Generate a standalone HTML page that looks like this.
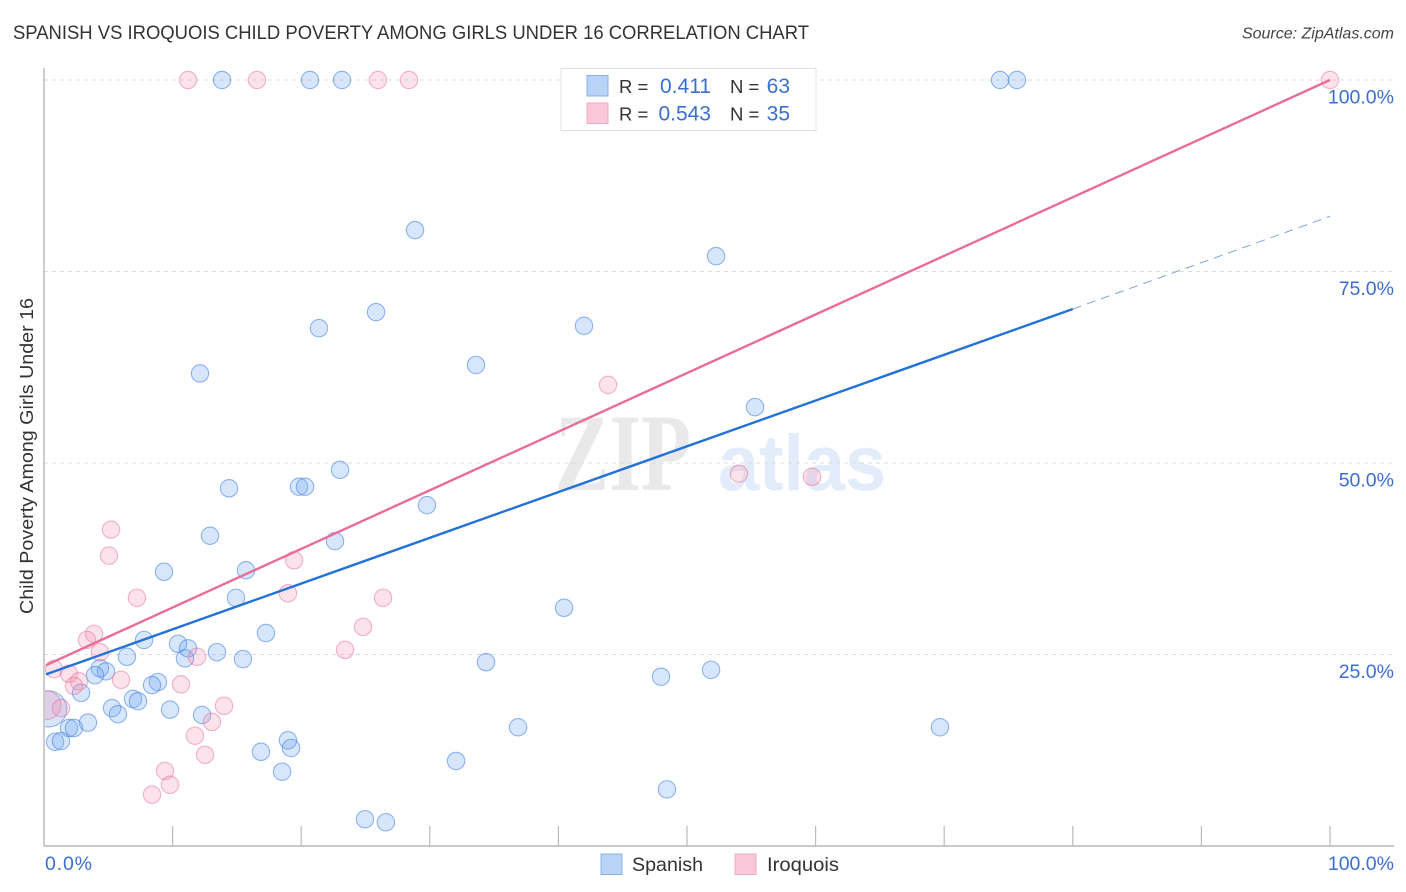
<!DOCTYPE html>
<html lang="en">
<head>
<meta charset="utf-8">
<title>Spanish vs Iroquois Child Poverty Correlation Chart</title>
<style>
html,body{margin:0;padding:0;background:#fff;}
svg{display:block;}
text{font-family:"Liberation Sans",sans-serif;}
</style>
</head>
<body>
<svg id="chart" width="1406" height="892" viewBox="0 0 1406 892" xmlns="http://www.w3.org/2000/svg">
  <defs>
    <clipPath id="plot-clip"><rect x="45" y="60" width="1349" height="786"/></clipPath>
  </defs>
  <text x="13" y="39" font-size="19.5" fill="#333" textLength="796" lengthAdjust="spacingAndGlyphs">SPANISH VS IROQUOIS CHILD POVERTY AMONG GIRLS UNDER 16 CORRELATION CHART</text>
  <text x="1394" y="38.5" font-size="16" font-style="italic" fill="#444" text-anchor="end">Source: ZipAtlas.com</text>
  <text x="555" y="490" font-size="110" font-weight="bold" fill="#e9e9e9" style="font-family:'Liberation Serif',serif" textLength="136" lengthAdjust="spacingAndGlyphs">ZIP</text>
  <text x="718" y="490" font-size="79" font-weight="bold" fill="#e3ecfa" style="font-family:'Liberation Sans',sans-serif" textLength="168" lengthAdjust="spacingAndGlyphs">atlas</text>
  <g id="grid"></g>
  <g id="axes"></g>
  <g id="marks-spanish" clip-path="url(#plot-clip)"></g>
  <g id="marks-iroquois" clip-path="url(#plot-clip)"></g>
  <g id="trends"></g>
  <text transform="translate(33,456) rotate(-90)" font-size="18.5" fill="#333" text-anchor="middle" textLength="316" lengthAdjust="spacingAndGlyphs">Child Poverty Among Girls Under 16</text>

  <g>
    <rect x="561" y="68.5" width="255" height="62" fill="#fff" stroke="#e2e2e2" stroke-width="1"/>
    <rect x="587" y="75.5" width="21" height="20.5" fill="#b9d3f6" stroke="#88b0e8" stroke-width="1"/>
    <rect x="587" y="103" width="21" height="20.5" fill="#fbc8d9" stroke="#f3a9c2" stroke-width="1"/>
    <text x="619" y="93" font-size="18.5" fill="#333">R =</text>
    <text x="711" y="93" font-size="21" fill="#3a6fd0" text-anchor="end">0.411</text>
    <text x="730" y="93" font-size="18.5" fill="#333">N =</text>
    <text x="790" y="93" font-size="21" fill="#3a6fd0" text-anchor="end">63</text>
    <text x="619" y="120.5" font-size="18.5" fill="#333">R =</text>
    <text x="711" y="120.5" font-size="21" fill="#3a6fd0" text-anchor="end">0.543</text>
    <text x="730" y="120.5" font-size="18.5" fill="#333">N =</text>
    <text x="790" y="120.5" font-size="21" fill="#3a6fd0" text-anchor="end">35</text>
  </g>

  <g>
    <rect x="601" y="854" width="21" height="20.5" fill="#b9d3f6" stroke="#88b0e8" stroke-width="1"/>
    <text x="632" y="871" font-size="19.5" fill="#333" textLength="71" lengthAdjust="spacingAndGlyphs">Spanish</text>
    <rect x="735" y="854" width="21" height="20.5" fill="#fbc8d9" stroke="#f3a9c2" stroke-width="1"/>
    <text x="767" y="871" font-size="19.5" fill="#333" textLength="72" lengthAdjust="spacingAndGlyphs">Iroquois</text>
  </g>
</svg>
<script>
// Data (values in percent)
const xTicks = [10, 20, 30, 40, 50, 60, 70, 80, 90, 100];
const yTicks = [25, 50, 75, 100];
const yTickLabels = ["25.0%", "50.0%", "75.0%", "100.0%"];
const xEndLabels = ["0.0%", "100.0%"];
const xEndValues = [0, 100];

const spanishX = [13.84, 20.68, 23.17, 74.34, 75.66, 28.85, 52.26, 25.82, 21.38, 41.99, 12.13, 33.59, 55.29, 23.02, 14.39, 19.83, 20.30, 29.78, 12.91, 22.63, 9.33, 15.71, 14.93, 40.44, 17.26, 7.78, 10.42, 11.2, 6.45, 10.96, 13.45, 15.47, 34.37, 51.87, 4.35, 4.82, 3.97, 47.98, 8.86, 8.40, 2.88, 6.92, 7.31, 5.29, 5.75, 9.80, 12.29, 3.42, 1.94, 2.33, 36.86, 69.67, 0.86, 1.32, 18.97, 19.21, 16.87, 18.51, 32.04, 48.44, 24.96, 26.59];
const spanishY = [100, 100, 100, 100, 100, 80.4, 77.0, 69.7, 67.6, 67.9, 61.7, 62.8, 57.3, 49.1, 46.7, 46.9, 46.9, 44.5, 40.5, 39.8, 35.8, 36.0, 32.4, 31.1, 27.8, 26.9, 26.4, 25.8, 24.7, 24.5, 25.3, 24.4, 24.0, 23.0, 23.2, 22.8, 22.3, 22.1, 21.4, 21.0, 20.0, 19.2, 18.9, 18.0, 17.2, 17.8, 17.1, 16.1, 15.4, 15.4, 15.5, 15.5, 13.6, 13.7, 13.8, 12.8, 12.3, 9.7, 11.1, 7.4, 3.5, 3.1];
const spanishBubbleX = [0.37];
const spanishBubbleY = [17.9];
const spanishBubbleWeight = [2.07];

const iroquoisX = [11.2, 16.56, 25.97, 28.38, 100, 43.86, 54.04, 59.72, 5.21, 5.05, 7.23, 19.44, 18.97, 26.36, 24.81, 23.41, 11.9, 3.89, 3.34, 4.35, 0.78, 1.94, 2.72, 2.33, 5.99, 10.65, 1.32, 14.0, 13.06, 11.74, 12.52, 9.41, 9.8, 8.4];
const iroquoisY = [100, 100, 100, 100, 100, 60.2, 48.6, 48.2, 41.3, 37.9, 32.4, 37.3, 33.0, 32.4, 28.6, 25.6, 24.7, 27.7, 26.9, 25.3, 23.1, 22.5, 21.5, 20.9, 21.7, 21.1, 18.0, 18.3, 16.2, 14.4, 11.9, 9.8, 8.0, 6.7];
const iroquoisBubbleX = [0.2];
const iroquoisBubbleY = [18.4];
const iroquoisBubbleWeight = [1.65];

const spanishTrendX = [0.15, 80];
const spanishTrendY = [22.4, 70.1];
const spanishForecastX = [80, 100];
const spanishForecastY = [70.1, 82.2];
const iroquoisTrendX = [0.15, 100];
const iroquoisTrendY = [23.6, 100];

// Axis functions
const NS = "http://www.w3.org/2000/svg";
const xPos = v => 44 + v * 12.86;
const yPos = v => 846 - v * 7.66;
const POINT_RADIUS = 8.7;

function make(parentId, tag, attrs, text) {
  const el = document.createElementNS(NS, tag);
  for (const k in attrs) el.setAttribute(k, attrs[k]);
  if (text !== undefined) el.textContent = text;
  document.getElementById(parentId).appendChild(el);
  return el;
}

// Gridlines and y tick labels
yTicks.forEach((t, i) => {
  const line = make("grid", "line", {x1: 44, x2: 1394, y1: yPos(t), y2: yPos(t), stroke: "#dcdcdc", "stroke-width": 1, "stroke-dasharray": "4 4"});
  
  
  const label = make("axes", "text", {x: 1394, y: yPos(t) + 23.5, "font-size": 19.5, fill: "#3a6fd0", "text-anchor": "end"}, yTickLabels[i]);
  
  
});

// Axes
const leftAxis = make("axes", "line", {x1: 44, x2: 44, y1: 68, y2: 846, stroke: "#aaa", "stroke-width": 1.2});


const bottomAxis = make("axes", "line", {x1: 44, x2: 1394, y1: 846, y2: 846, stroke: "#aaa", "stroke-width": 1.2});



xTicks.forEach(t => {
  const tick = make("axes", "line", {x1: xPos(t), x2: xPos(t), y1: 826, y2: 846, stroke: "#bbb", "stroke-width": 1.2});
  
  
});

xEndLabels.forEach((s, i) => {
  const isLast = xEndValues[i] === 100;
  const label = make("axes", "text", {x: isLast ? 1394 : 45, y: 870, "font-size": 19.5, fill: "#3a6fd0", "text-anchor": isLast ? "end" : "start"}, s);
  if (!isLast) label.setAttribute("textLength", 47);
  
  
});

// Points
function drawPoints(parentId, xs, ys, weights, fill, stroke) {
  xs.forEach((v, i) => {
    const w = weights ? weights[i] : 1;
    const c = make(parentId, "circle", {
      cx: xPos(v), cy: yPos(ys[i]), r: POINT_RADIUS * w,
      fill: fill, stroke: stroke, "stroke-width": 1.1
    });
    
    
  });
}
const blueFill = "rgba(110,165,240,0.28)", blueStroke = "rgba(60,125,225,0.55)";
const pinkFill = "rgba(240,140,175,0.25)", pinkStroke = "rgba(230,110,150,0.5)";
drawPoints("marks-spanish", spanishBubbleX, spanishBubbleY, spanishBubbleWeight, blueFill, blueStroke);
drawPoints("marks-spanish", spanishX, spanishY, null, blueFill, blueStroke);
drawPoints("marks-iroquois", iroquoisBubbleX, iroquoisBubbleY, iroquoisBubbleWeight, pinkFill, pinkStroke);
drawPoints("marks-iroquois", iroquoisX, iroquoisY, null, pinkFill, pinkStroke);

// Trend lines
function drawLine(xs, ys, stroke, width, dash) {
  const l = make("trends", "line", {x1: xPos(xs[0]), y1: yPos(ys[0]), x2: xPos(xs[1]), y2: yPos(ys[1]), stroke: stroke, "stroke-width": width});
  if (dash) l.setAttribute("stroke-dasharray", dash);
  return l;
}
const iroquoisLine = drawLine(iroquoisTrendX, iroquoisTrendY, "#e96d98", 2.4);


const spanishLine = drawLine(spanishTrendX, spanishTrendY, "#2272d8", 2.4);


const forecastLine = drawLine(spanishForecastX, spanishForecastY, "#7fa5de", 1, "9 6");


</script>
</body>
</html>
